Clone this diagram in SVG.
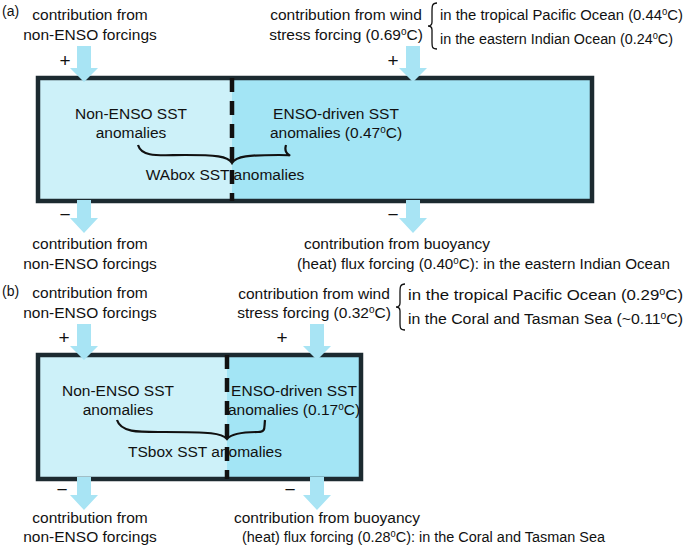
<svg xmlns="http://www.w3.org/2000/svg" width="685" height="546" viewBox="0 0 685 546">
<style>
text{font-family:"Liberation Sans",Arial,sans-serif;font-size:15.5px;fill:#111}
.c{text-anchor:middle}
.sup{font-size:10px}
.pm{font-size:19px}
.arr{fill:#a8e4f4}
.box{fill:none;stroke:#1c2a30;stroke-width:4.5}
.dash{stroke:#111;stroke-width:4.5;stroke-dasharray:14,9}
.br{fill:none;stroke:#111;stroke-width:2.2}
.br1{fill:none;stroke:#111;stroke-width:1.3}
</style>
<rect width="685" height="546" fill="#fff"/>
<text x="2" y="16" style="font-size:14px">(a)</text>
<text x="2" y="296" style="font-size:14px">(b)</text>
<g id="boxA">
<rect x="38" y="78" width="194" height="123" fill="#cdf1f9"/>
<rect x="232" y="78" width="360" height="123" fill="#a3e5f5"/>
<rect class="box" x="38" y="78" width="554" height="123"/>
<line class="dash" x1="232" y1="78" x2="232" y2="201"/>
<text class="c" x="131" y="119">Non-ENSO SST</text>
<text class="c" x="131" y="138">anomalies</text>
<text class="c" x="336" y="119">ENSO-driven SST</text>
<text class="c" x="336" y="138">anomalies (0.47<tspan class="sup" dy="-5">o</tspan><tspan dy="5">C)</tspan></text>
<path class="br" d="M138,145 C142,158 160,155 185,155 C215,155 228,156 232,163 C236,156 249,155 279,155 C300,155 282,158 286,145"/>
<text class="c" x="225" y="180">WAbox SST anomalies</text>
</g>
<g id="boxB">
<rect x="38" y="355" width="189" height="124" fill="#cdf1f9"/>
<rect x="227" y="355" width="134" height="124" fill="#a3e5f5"/>
<rect class="box" x="38" y="355" width="323" height="124"/>
<line class="dash" x1="227" y1="355" x2="227" y2="479"/>
<text class="c" x="118" y="396">Non-ENSO SST</text>
<text class="c" x="118" y="415">anomalies</text>
<text class="c" x="294" y="396">ENSO-driven SST</text>
<text class="c" x="294" y="415">anomalies (0.17<tspan class="sup" dy="-5">o</tspan><tspan dy="5">C)</tspan></text>
<path class="br" d="M117,420 C121,433 140,432 165,432 C210,432 222,433 227,439 C232,433 245,432 258,432 C266,432 264,428 265,420"/>
<text class="c" x="205" y="457">TSbox SST anomalies</text>
</g>
<g id="connectors">
<path class="arr" d="M77,46 H91 V68 H98 L84,82 L70,68 H77Z"/>
<path class="arr" d="M406,46 H420 V68 H427 L413,82 L399,68 H406Z"/>
<path class="arr" d="M77,200 H91 V218 H98 L84,233 L70,218 H77Z"/>
<path class="arr" d="M406,200 H420 V218 H427 L413,233 L399,218 H406Z"/>
<path class="arr" d="M77,324 H91 V346 H98 L84,360 L70,346 H77Z"/>
<path class="arr" d="M310,324 H324 V346 H331 L317,360 L303,346 H310Z"/>
<path class="arr" d="M77,477 H91 V495 H98 L84,510 L70,495 H77Z"/>
<path class="arr" d="M310,477 H324 V495 H331 L317,510 L303,495 H310Z"/>
</g>
<g id="labels">
<text class="c" x="90" y="20">contribution from</text>
<text class="c" x="90" y="40">non-ENSO forcings</text>
<text class="c pm" x="65" y="67">+</text>
<text class="c pm" x="393" y="67">+</text>
<text class="c pm" x="65" y="221">−</text>
<text class="c pm" x="393" y="221">−</text>
<text class="c" x="346" y="20">contribution from wind</text>
<text class="c" x="346" y="40">stress forcing (0.69<tspan class="sup" dy="-5">o</tspan><tspan dy="5">C)</tspan></text>
<path class="br1" d="M437,3 C432,3 432,6 432,12 V22 C432,25 431,26 428,26 C431,26 432,27 432,30 V41 C432,47 432,49 437,49"/>
<text x="440" y="20" textLength="243" lengthAdjust="spacingAndGlyphs">in the tropical Pacific Ocean (0.44<tspan class="sup" dy="-5">o</tspan><tspan dy="5">C)</tspan></text>
<text x="440" y="44" textLength="233" lengthAdjust="spacingAndGlyphs">in the eastern Indian Ocean (0.24<tspan class="sup" dy="-5">o</tspan><tspan dy="5">C)</tspan></text>
<text class="c" x="90" y="249">contribution from</text>
<text class="c" x="90" y="269">non-ENSO forcings</text>
<text class="c" x="397" y="249">contribution from buoyancy</text>
<text x="297" y="269" textLength="373" lengthAdjust="spacingAndGlyphs">(heat) flux forcing (0.40<tspan class="sup" dy="-5">o</tspan><tspan dy="5">C): in the eastern Indian Ocean</tspan></text>

<text class="c" x="90" y="298">contribution from</text>
<text class="c" x="90" y="318">non-ENSO forcings</text>
<text class="c pm" x="64" y="344">+</text>
<text class="c pm" x="282" y="344">+</text>
<text class="c pm" x="62" y="496">−</text>
<text class="c pm" x="290" y="496">−</text>
<text class="c" x="314" y="299">contribution from wind</text>
<text class="c" x="314" y="318">stress forcing (0.32<tspan class="sup" dy="-5">o</tspan><tspan dy="5">C)</tspan></text>
<path class="br1" d="M405,284 C400,284 400,287 400,293 V303 C400,306 399,307 396,307 C399,307 400,308 400,311 V322 C400,328 400,330 405,330"/>
<text x="408" y="300" textLength="275" lengthAdjust="spacingAndGlyphs">in the tropical Pacific Ocean (0.29<tspan class="sup" dy="-5">o</tspan><tspan dy="5">C)</tspan></text>
<text x="408" y="324" textLength="275" lengthAdjust="spacingAndGlyphs">in the Coral and Tasman Sea (~0.11<tspan class="sup" dy="-5">o</tspan><tspan dy="5">C)</tspan></text>
<text class="c" x="90" y="523">contribution from</text>
<text class="c" x="90" y="542">non-ENSO forcings</text>
<text class="c" x="327" y="523">contribution from buoyancy</text>
<text x="242" y="542" textLength="363" lengthAdjust="spacingAndGlyphs">(heat) flux forcing (0.28<tspan class="sup" dy="-5">o</tspan><tspan dy="5">C): in the Coral and Tasman Sea</tspan></text>
</g>
</svg>
